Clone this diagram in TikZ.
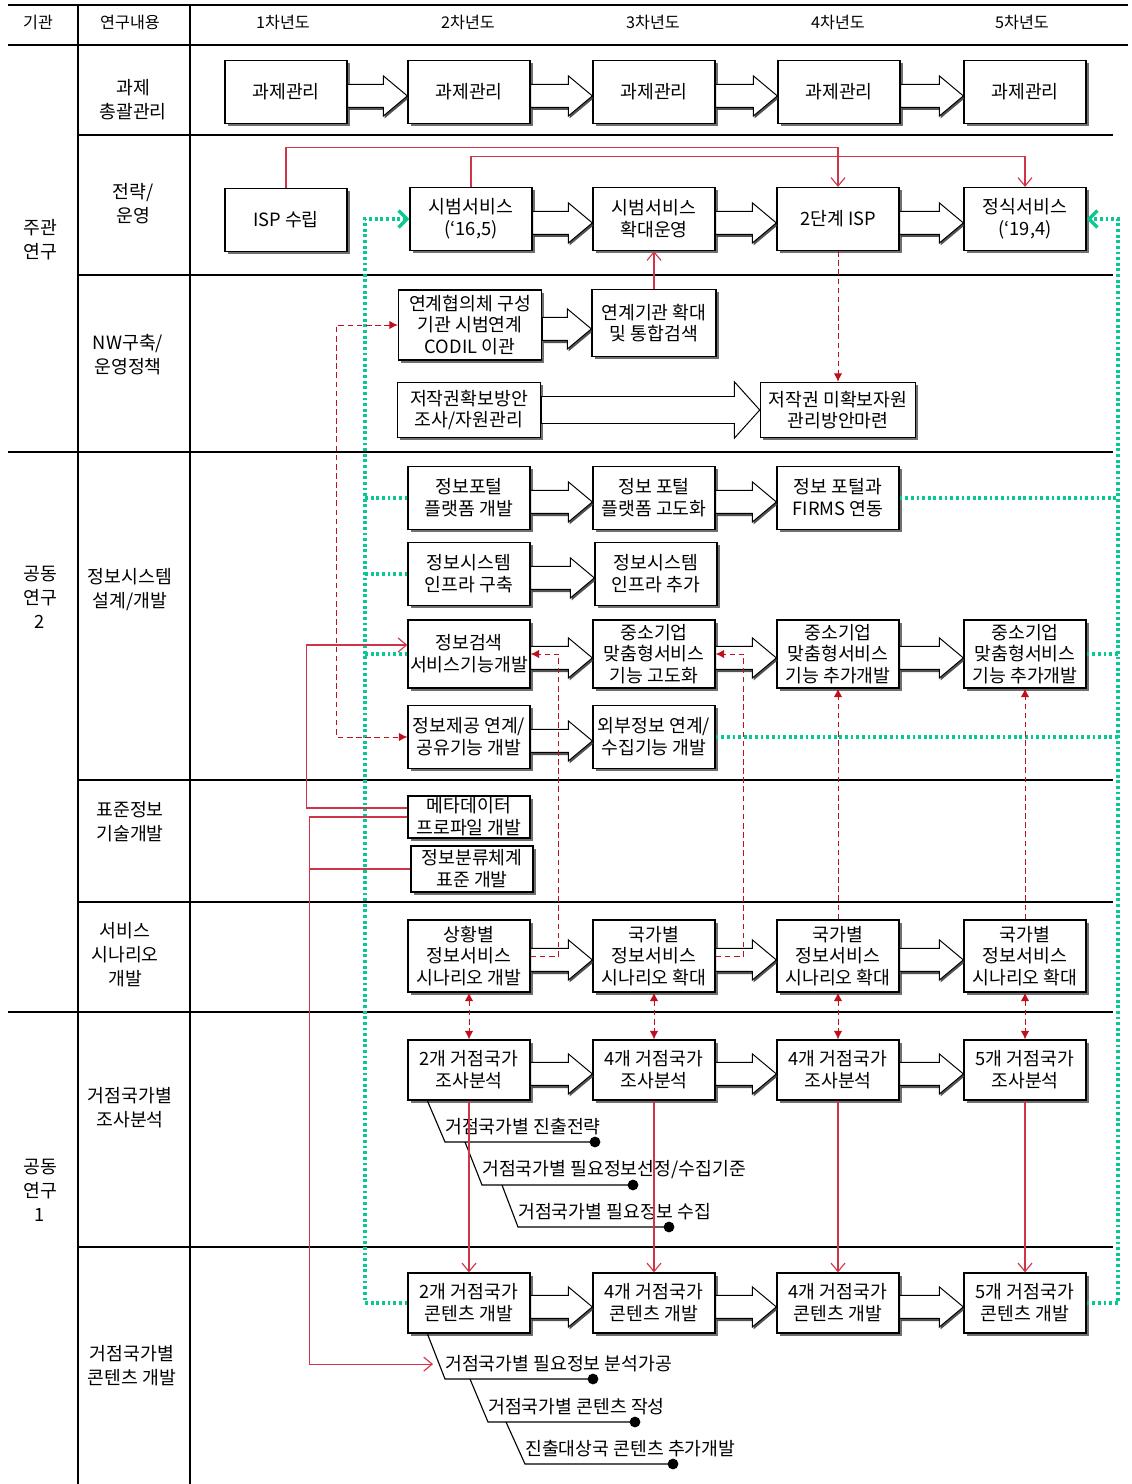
\documentclass[tikz,border=0pt]{standalone}
\usepackage{fontspec}
\setmainfont{Noto Sans CJK KR}
\usetikzlibrary{arrows.meta,shadows,calc,positioning}
\definecolor{linkred}{RGB}{208,52,72}
\definecolor{dashred}{RGB}{192,16,32}
\definecolor{flowgreen}{RGB}{10,200,145}
\newcommand{\fatarrow}[2]{%
\path[fatarrow] let \p1=(#1.east), \p2=(#2.west) in
(\x1,\y1+5.4pt)--(\x2-17pt,\y1+5.4pt)--(\x2-17pt,\y1+11.4pt)--(\x2,\y1-2.8pt)
--(\x2-17pt,\y1-17pt)--(\x2-17pt,\y1-11pt)--(\x1,\y1-11pt)--cycle;}

\begin{document}
\begin{tikzpicture}[x=0.025cm,y=-0.025cm,
rule/.style={line width=0.8pt},
box/.style={draw,line width=0.9pt,fill=white,align=center,minimum width=3.05cm,minimum height=1.575cm,inner sep=1pt,font=\fontsize{13}{15.5}\selectfont,drop shadow={shadow xshift=1.8pt,shadow yshift=-1.8pt,fill=black!70,opacity=.8}},
fatarrow/.style={draw,line width=0.7pt,fill=white,drop shadow={shadow xshift=0.8pt,shadow yshift=-1.8pt,fill=black!75,opacity=.9}},
lab/.style={align=center,font=\fontsize{13}{17}\selectfont},
head/.style={font=\fontsize{11.5}{14}\selectfont},
note/.style={inner xsep=0pt,inner ysep=4.5pt,anchor=south west,font=\fontsize{13}{15}\selectfont},
dot/.style={circle,fill,inner sep=0pt,minimum size=0.27cm},
leg/.style={line width=0.8pt},
linkline/.style={draw=linkred,line width=0.8pt},
linkarrow/.style={linkline,-{Straight Barb[length=6pt,width=10pt]}},
dashlink/.style={draw=dashred,line width=0.7pt,dash pattern=on 4pt off 2.5pt,-{Latex[length=6pt,width=6pt]}},
flow/.style={draw=flowgreen,line width=2.4pt,dash pattern=on 2pt off 2pt},
flowarrow/.style={flow,-{Straight Barb[length=6pt,width=12pt]}}]
\useasboundingbox (0,0) rectangle (1131,1484);

\draw[rule] (8,5)--(1128,5) (8,45)--(1128,45) (78,5)--(78,1484) (190,5)--(190,1484);
\foreach \y in {135,275,780,902,1247} \draw[rule] (78,\y)--(1113,\y);
\foreach \y in {452,1012} \draw[rule] (8,\y)--(1113,\y);

\node[head] (h0) at (38,22) {기관};
\node[head] (h1) at (130,22) {연구내용};
\node[head] (y1) at (283,22) {1차년도};
\node[head] (y2) at (468,22) {2차년도};
\node[head] (y3) at (653,22) {3차년도};
\node[head] (y4) at (838,22) {4차년도};
\node[head] (y5) at (1022,22) {5차년도};

\node[lab] (org1) at (40,240) {주관\\연구};
\node[lab] (org2) at (40,597) {공동\\연구\\2};
\node[lab] (org3) at (40,1190) {공동\\연구\\1};
\node[lab] (t1) at (133,100) {과제\\총괄관리};
\node[lab] (t2) at (133,204) {전략/\\운영};
\node[lab] (t3) at (128,355) {NW구축/\\운영정책};
\node[lab] (t4) at (130,590) {정보시스템\\설계/개발};
\node[lab] (t5) at (130,822) {표준정보\\기술개발};
\node[lab] (t6) at (125,955) {서비스\\시나리오\\개발};
\node[lab] (t7) at (130,1108) {거점국가별\\조사분석};
\node[lab] (t8) at (132,1366) {거점국가별\\콘텐츠 개발};

\node[box] (pm1) at (286,92) {과제관리};
\node[box] (pm2) at (469,92) {과제관리};
\node[box] (pm3) at (654,92) {과제관리};
\node[box] (pm4) at (839,92) {과제관리};
\node[box] (pm5) at (1025,92) {과제관리};

\node[box] (isp) at (286,220) {ISP 수립};
\node[box] (pilot) at (471,219) {시범서비스\\(‘16,5)};
\node[box] (pilotx) at (654,219) {시범서비스\\확대운영};
\node[box] (isp2) at (838,219) {2단계 ISP};
\node[box] (launch) at (1025,219) {정식서비스\\(‘19,4)};

\node[box,minimum width=3.58cm,minimum height=1.75cm] (consort) at (470,325) {연계협의체 구성\\기관 시범연계\\CODIL 이관};
\node[box,minimum width=3.1cm,minimum height=1.68cm] (expand) at (654,323) {연계기관 확대\\및 통합검색};
\node[box,minimum width=3.58cm,minimum height=1.38cm] (copy1) at (469,410) {저작권확보방안\\조사/자원관리};
\node[box,minimum width=3.88cm,minimum height=1.38cm] (copy2) at (838,410) {저작권 미확보자원\\관리방안마련};

\node[box] (portal1) at (469,498) {정보포털\\플랫폼 개발};
\node[box] (portal2) at (654,498) {정보 포털\\플랫폼 고도화};
\node[box] (portal3) at (838,498) {정보 포털과\\FIRMS 연동};
\node[box] (infra1) at (469,574) {정보시스템\\인프라 구축};
\node[box] (infra2) at (656,574) {정보시스템\\인프라 추가};
\node[box,minimum height=1.7cm] (search) at (469,654) {정보검색\\서비스기능개발};
\node[box,minimum height=1.7cm] (sme3) at (654,654) {중소기업\\맞춤형서비스\\기능 고도화};
\node[box,minimum height=1.7cm] (sme4) at (838,654) {중소기업\\맞춤형서비스\\기능 추가개발};
\node[box,minimum height=1.7cm] (sme5) at (1025,654) {중소기업\\맞춤형서비스\\기능 추가개발};
\node[box] (share) at (469,737) {정보제공 연계/\\공유기능 개발};
\node[box] (extern) at (654,737) {외부정보 연계/\\수집기능 개발};

\node[box,minimum height=1.05cm] (meta) at (469,817) {메타데이터\\프로파일 개발};
\node[box,minimum height=1.15cm] (class) at (472,869) {정보분류체계\\표준 개발};

\node[box,minimum height=1.8cm] (scen2) at (469,956) {상황별\\정보서비스\\시나리오 개발};
\node[box,minimum height=1.8cm] (scen3) at (654,956) {국가별\\정보서비스\\시나리오 확대};
\node[box,minimum height=1.8cm] (scen4) at (838,956) {국가별\\정보서비스\\시나리오 확대};
\node[box,minimum height=1.8cm] (scen5) at (1025,956) {국가별\\정보서비스\\시나리오 확대};

\node[box,minimum height=1.5cm] (surv2) at (469,1070) {2개 거점국가\\조사분석};
\node[box,minimum height=1.5cm] (surv3) at (654,1070) {4개 거점국가\\조사분석};
\node[box,minimum height=1.5cm] (surv4) at (838,1070) {4개 거점국가\\조사분석};
\node[box,minimum height=1.5cm] (surv5) at (1025,1070) {5개 거점국가\\조사분석};

\node[box,minimum height=1.5cm] (cont2) at (469,1303) {2개 거점국가\\콘텐츠 개발};
\node[box,minimum height=1.5cm] (cont3) at (654,1303) {4개 거점국가\\콘텐츠 개발};
\node[box,minimum height=1.5cm] (cont4) at (838,1303) {4개 거점국가\\콘텐츠 개발};
\node[box,minimum height=1.5cm] (cont5) at (1025,1303) {5개 거점국가\\콘텐츠 개발};

\foreach \a/\b in {pm1/pm2,pm2/pm3,pm3/pm4,pm4/pm5,pilot/pilotx,pilotx/isp2,isp2/launch,
  consort/expand,portal1/portal2,portal2/portal3,infra1/infra2,search/sme3,sme3/sme4,sme4/sme5,
  share/extern,scen2/scen3,scen3/scen4,scen4/scen5,surv2/surv3,surv3/surv4,surv4/surv5,
  cont2/cont3,cont3/cont4,cont4/cont5}
  \fatarrow{\a}{\b};
\path[draw,line width=0.7pt,fill=white] let \p1=(copy1.east), \p2=(copy2.west) in
(\x1,\y1+9.6pt)--(\x2-18pt,\y1+9.6pt)--(\x2-18pt,\y1+20pt)--(\x2,\y1)
--(\x2-18pt,\y1-20pt)--(\x2-18pt,\y1-9.6pt)--(\x1,\y1-9.6pt)--cycle;

\node[note] (sa) at (445,1142) {거점국가별 진출전략};
\node[note] (sb) at (482,1185) {거점국가별 필요정보선정/수집기준};
\node[note] (sc) at (518,1227) {거점국가별 필요정보 수집};
\draw[leg] ($(surv2.south west)+(20,0)$) -- (sa.south west) -- ++(150,0) node[dot] (da) {};
\draw[leg] ($(sa.south west)+(20,0)$) -- (sb.south west) -- ++(151,0) node[dot] (db) {};
\draw[leg] ($(sb.south west)+(20,0)$) -- (sc.south west) -- ++(151,0) node[dot] (dc) {};
\node[note] (ca) at (445,1379) {거점국가별 필요정보 분석가공};
\node[note] (cb) at (488,1422) {거점국가별 콘텐츠 작성};
\node[note] (cc) at (525,1464) {진출대상국 콘텐츠 추가개발};
\draw[leg] ($(cont2.south west)+(20,0)$) -- (ca.south west) -- ++(148,0) node[dot] (dd) {};
\draw[leg] ($(ca.south west)+(25,0)$) -- (cb.south west) -- ++(147,0) node[dot] (de) {};
\draw[leg] ($(cb.south west)+(18,0)$) -- (cc.south west) -- ++(148,0) node[dot] (df) {};

\coordinate (ls) at (365,0);
\coordinate (rs) at (1118,0);
\draw[flowarrow] (cont2.west) -- (cont2.west -| ls) |- (pilot.west);
\foreach \n in {portal1,infra1,search} \draw[flow] (\n.west) -- (\n.west -| ls);
\draw[flowarrow] (cont5.east) -- (cont5.east -| rs) |- (launch.east);
\foreach \n in {portal3,sme5,extern} \draw[flow] (\n.east) -- (\n.east -| rs);

\draw[linkarrow] (isp.north) -- ++(0,-40) -| (isp2.north);
\draw[linkarrow] (pilot.north) -- ++(0,-30) -| (launch.north);
\draw[linkarrow] (expand.north) -- (pilotx.south);
\draw[linkarrow] ($(meta.west)+(0,-9)$) -- ++(-101,0) |- ($(search.west)+(0,-9)$);
\draw[linkarrow] (meta.west) -- ++(-98,0) |- ($(ca.west)+(-12,0)$);
\draw[linkline] (class.west) -- ++(-101,0);
\foreach \c in {2,...,5} \draw[linkarrow] (surv\c.south) -- (cont\c.north);

\draw[dashlink] (isp2.south) -- (copy2.north);
\draw[dashlink,{Latex[length=6pt,width=6pt]}-{Latex[length=6pt,width=6pt]}] (consort.west) -- ++(-61,0) |- (share.west);
\draw[dashlink] (scen2.east) -- ++(28,0) |- (search.east);
\draw[dashlink] (scen3.east) -- ++(28,0) |- (sme3.east);
\draw[dashlink] (scen4.north) -- (sme4.south);
\draw[dashlink] (scen5.north) -- (sme5.south);
\foreach \c in {2,...,5}
  \draw[dashlink,{Latex[length=6pt,width=6pt]}-{Latex[length=6pt,width=6pt]}] (scen\c.south) -- (surv\c.north);
\end{tikzpicture}
\end{document}
